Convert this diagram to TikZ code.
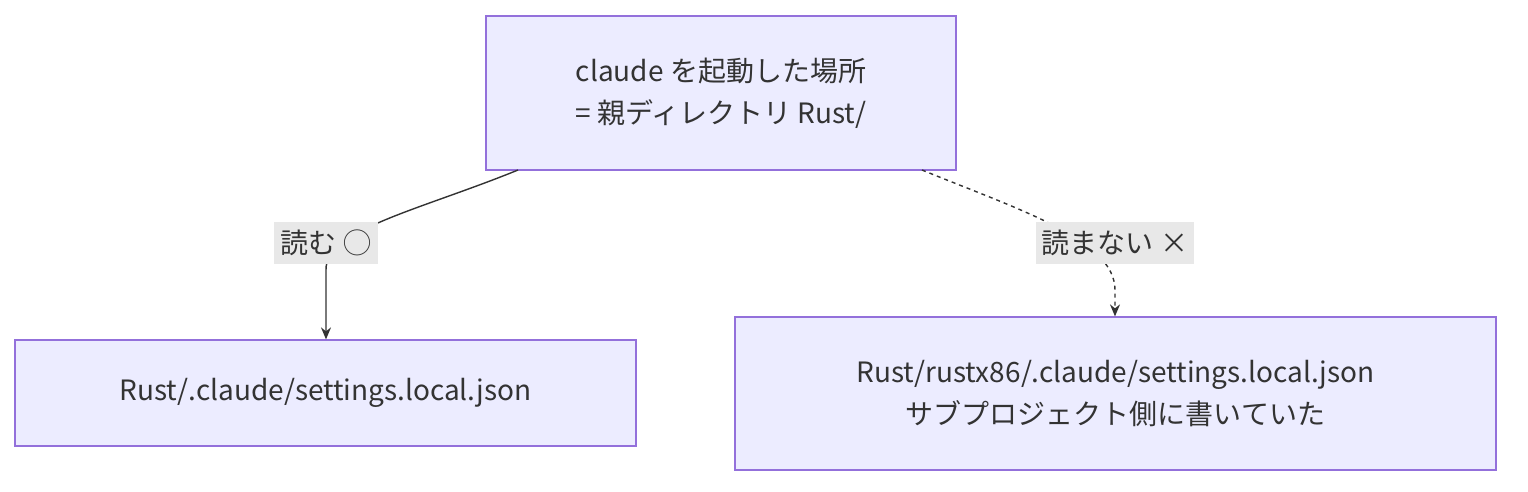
\documentclass[tikz,border=0pt]{standalone}
\usepackage{fontspec}
\setmainfont{Noto Sans CJK JP}
\usetikzlibrary{arrows.meta}
\definecolor{nodefill}{HTML}{ECECFF}
\definecolor{nodeline}{HTML}{9370DB}
\definecolor{lblbg}{HTML}{E8E8E8}
\definecolor{ink}{HTML}{333333}
\tikzset{
  box/.style={draw=nodeline, fill=nodefill, line width=0.6pt, align=center, text=ink, font=\fontsize{14}{21}\selectfont, inner sep=0pt},
  lbl/.style={fill=lblbg, text=ink, font=\fontsize{14}{17}\selectfont, inner sep=0pt, minimum height=21pt},
  edge/.style={draw=ink, line width=0.7pt, -{Stealth[length=6pt,width=5pt]}}
}
\begin{document}
\begin{tikzpicture}[x=0.5pt,y=-0.5pt]
\useasboundingbox (0,0) rectangle (1528,492);
\node[box, minimum width=235pt, minimum height=77pt] (top) at (721,93) {claude を起動した場所\\= 親ディレクトリ Rust/};
\node[box, minimum width=310.5pt, minimum height=53pt] (left) at (325.5,393) {Rust/.claude/settings.local.json};
\node[box, minimum width=380.5pt, minimum height=76.5pt] (right) at (1115.5,393.5) {Rust/rustx86/.claude/settings.local.json\\サブプロジェクト側に書いていた};
\coordinate (ls) at (518,170);
\coordinate (rs) at (922,170);
\draw[edge] (ls) .. controls (420,210) and (325,230) .. (326,270) -- (left.north -| 326,0);
\node[lbl, minimum width=52pt] (l1) at (326,243) {読む ◯};
\draw[edge, dashed, dash pattern=on 2pt off 2pt] (rs) .. controls (1020,210) and (1115,240) .. (1115,290) -- (right.north -| 1115,0);
\node[lbl, minimum width=79pt] (l2) at (1115,243) {読まない ×};
\end{tikzpicture}
\end{document}
